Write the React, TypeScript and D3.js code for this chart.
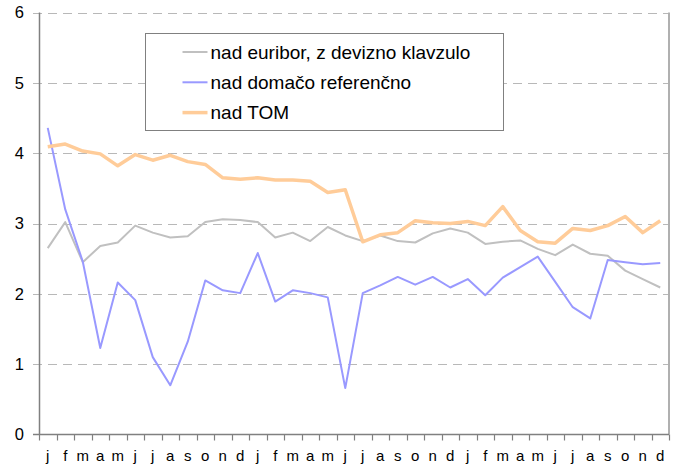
import * as d3 from 'd3';
import { useEffect, useRef } from 'react';

const months = ['j', 'f', 'm', 'a', 'm', 'j', 'j', 'a', 's', 'o', 'n', 'd'];
const categories = [...months, ...months, ...months];

const euribor = [
  2.65, 3.02, 2.45, 2.68, 2.73, 2.97, 2.87, 2.8, 2.82, 3.02, 3.06, 3.05,
  3.02, 2.8, 2.87, 2.75, 2.95, 2.83, 2.75, 2.83, 2.75, 2.73, 2.86, 2.93,
  2.87, 2.71, 2.74, 2.76, 2.64, 2.55, 2.7, 2.57, 2.54, 2.33, 2.21, 2.09,
];
const domace = [
  4.36, 3.2, 2.46, 1.23, 2.16, 1.91, 1.1, 0.7, 1.32, 2.19, 2.05, 2.01,
  2.58, 1.89, 2.05, 2.01, 1.95, 0.66, 2.01, 2.12, 2.24, 2.13, 2.24, 2.09,
  2.21, 1.98, 2.23, 2.38, 2.53, 2.17, 1.81, 1.65, 2.48, 2.45, 2.42, 2.44,
];
const tom = [
  4.09, 4.13, 4.03, 3.99, 3.82, 3.98, 3.9, 3.97, 3.88, 3.84, 3.65, 3.63,
  3.65, 3.62, 3.62, 3.6, 3.44, 3.48, 2.74, 2.84, 2.87, 3.04, 3.01, 3.0,
  3.03, 2.97, 3.24, 2.9, 2.74, 2.72, 2.93, 2.9, 2.97, 3.1, 2.87, 3.04,
];
const yTicks = [0, 1, 2, 3, 4, 5, 6];

const series = [
  { label: 'nad euribor, z devizno klavzulo', values: euribor, color: '#c0c0c0', width: 2 },
  { label: 'nad domačo referenčno', values: domace, color: '#9999ff', width: 2 },
  { label: 'nad TOM', values: tom, color: '#ffcc99', width: 3.5 },
];

export default function App() {
  const svgRef = useRef<SVGSVGElement>(null);

  useEffect(() => {
    const svgEl = svgRef.current;
    if (!svgEl) return;

    const width = 675;
    const height = 466;
    const margin = { top: 12.5, right: 6, bottom: 31.5, left: 39 };
    const font = '"Liberation Sans", Arial, sans-serif';

    const svg = d3.select(svgEl);
    svg.attr('width', width).attr('height', height);
    svg.selectAll('*').remove();

    const x = d3
      .scaleBand<number>()
      .domain(categories.map((_, i) => i))
      .range([margin.left, width - margin.right]);
    const y = d3
      .scaleLinear()
      .domain([0, 6])
      .range([height - margin.bottom, margin.top]);

    const x0 = margin.left;
    const x1 = width - margin.right;
    const yBottom = y(0);

    // gridlines (dashed), extending left as tick marks
    svg
      .append('g')
      .selectAll('line')
      .data(yTicks.filter((t) => t > 0))
      .join('line')
      .attr('x1', x0 - 6)
      .attr('x2', x1)
      .attr('y1', (d) => Math.round(y(d)) + 0.5)
      .attr('y2', (d) => Math.round(y(d)) + 0.5)
      .attr('stroke', '#b8b8b8')
      .attr('stroke-width', 1)
      .attr('stroke-dasharray', '9,6');

    // y labels
    svg
      .append('g')
      .selectAll('text')
      .data(yTicks)
      .join('text')
      .attr('x', 24)
      .attr('y', (d) => y(d))
      .attr('dy', '0.36em')
      .attr('text-anchor', 'end')
      .attr('font-family', font)
      .attr('font-size', 16.5)
      .attr('fill', '#000')
      .text((d) => d);

    // right border
    svg
      .append('line')
      .attr('x1', x1)
      .attr('x2', x1)
      .attr('y1', margin.top)
      .attr('y2', yBottom)
      .attr('stroke', '#b0b0b0')
      .attr('stroke-width', 2);

    // left axis
    svg
      .append('line')
      .attr('x1', x0 + 0.5)
      .attr('x2', x0 + 0.5)
      .attr('y1', margin.top)
      .attr('y2', yBottom)
      .attr('stroke', '#808080')
      .attr('stroke-width', 1.5);
    svg
      .append('line')
      .attr('x1', x0 - 6)
      .attr('x2', x0)
      .attr('y1', yBottom)
      .attr('y2', yBottom)
      .attr('stroke', '#808080')
      .attr('stroke-width', 1.5);

    // bottom axis
    svg
      .append('line')
      .attr('x1', x0)
      .attr('x2', x1)
      .attr('y1', yBottom)
      .attr('y2', yBottom)
      .attr('stroke', '#808080')
      .attr('stroke-width', 1.5);
    const tickXs = categories.map((_, i) => x(i)!).concat([x1]);
    svg
      .append('g')
      .selectAll('line')
      .data(tickXs)
      .join('line')
      .attr('x1', (d) => Math.round(d) + 0.5)
      .attr('x2', (d) => Math.round(d) + 0.5)
      .attr('y1', yBottom)
      .attr('y2', yBottom + 6)
      .attr('stroke', '#808080')
      .attr('stroke-width', 1.2);
    svg
      .append('g')
      .selectAll('text')
      .data(categories)
      .join('text')
      .attr('x', (_, i) => x(i)! + x.bandwidth() / 2)
      .attr('y', 461)
      .attr('text-anchor', 'middle')
      .attr('font-family', font)
      .attr('font-size', 15)
      .attr('fill', '#000')
      .text((d) => d);

    // lines
    const line = d3
      .line<number>()
      .x((_, i) => x(i)! + x.bandwidth() / 2)
      .y((d) => y(d));
    svg
      .append('g')
      .selectAll('path')
      .data(series)
      .join('path')
      .attr('d', (d) => line(d.values))
      .attr('fill', 'none')
      .attr('stroke', (d) => d.color)
      .attr('stroke-width', (d) => d.width)
      .attr('stroke-linejoin', 'round');

    // legend
    const lg = svg.append('g').attr('transform', 'translate(145.5,33.5)');
    lg.append('rect')
      .attr('width', 358)
      .attr('height', 97)
      .attr('fill', '#fff')
      .attr('stroke', '#808080')
      .attr('stroke-width', 1);
    const rows = lg
      .selectAll('g.row')
      .data(series)
      .join('g')
      .attr('class', 'row')
      .attr('transform', (_, i) => `translate(0,${18.5 + i * 30.3})`);
    rows
      .append('line')
      .attr('x1', 37)
      .attr('x2', 62)
      .attr('stroke', (d) => d.color)
      .attr('stroke-width', (d) => d.width);
    rows
      .append('text')
      .attr('x', 65)
      .attr('dy', '0.36em')
      .attr('font-family', font)
      .attr('font-size', 19)
      .attr('fill', '#000')
      .text((d) => d.label);
  }, []);

  return (
    <div style={{ position: 'fixed', left: 0, top: 0, background: '#fff' }}>
      <svg ref={svgRef} role="img" aria-label="Obrestni razmiki" style={{ display: 'block' }} />
    </div>
  );
}
